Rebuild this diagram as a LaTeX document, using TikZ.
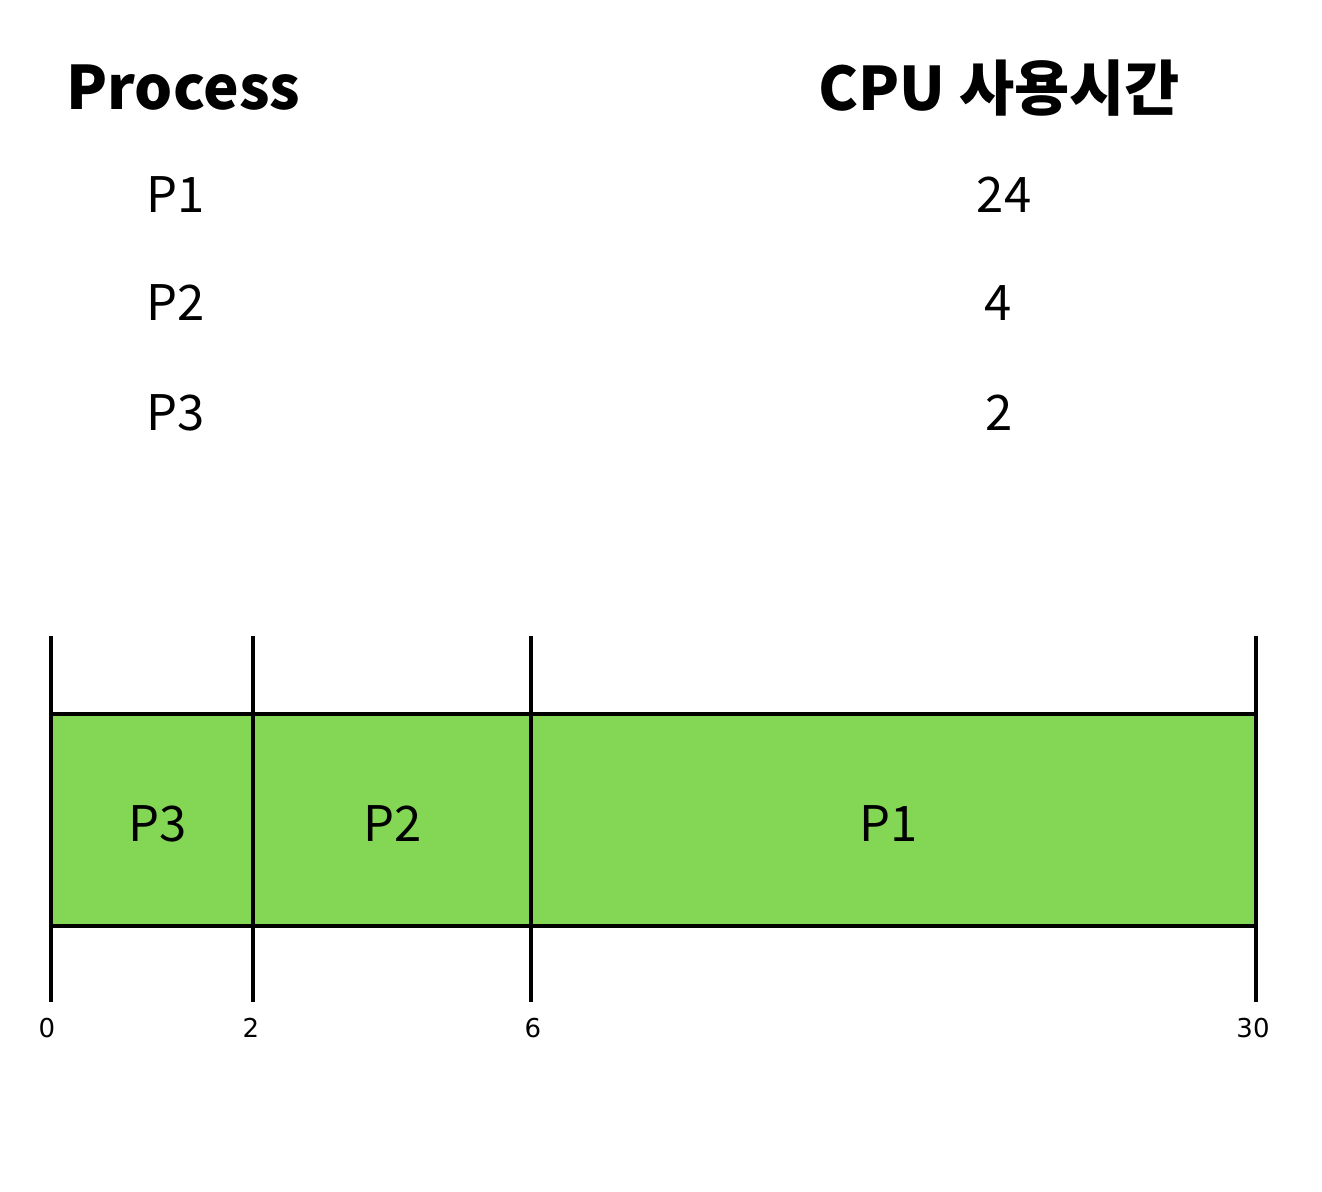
\documentclass[tikz,border=0pt]{standalone}
\usepackage{fontspec}
\setmainfont{Noto Sans CJK KR}
\newfontfamily\tickfont{DejaVu Sans}
\definecolor{barfill}{RGB}{132,215,85}
\begin{document}
\begin{tikzpicture}[
    x=0.5pt, y=-0.5pt,
    head/.style={anchor=west, inner sep=0pt, font=\fontsize{30}{36}\selectfont\bfseries},
    row/.style={inner sep=0pt, font=\fontsize{24.5}{29}\selectfont},
    tick/.style={inner sep=0pt, font=\tickfont\fontsize{13}{16}\selectfont},
    bar/.style={draw, line width=2.3pt},
]
    \useasboundingbox (0,0) rectangle (1322,1192);
    % Table
    \node[head] (hproc) at (66,88) {Process};
    \node[head] (hcpu) at (818,88) {CPU 사용시간};
    \foreach \n/\y/\t/\tx in {1/195/24/1004, 2/303/4/998, 3/413/2/999} {
        \node[row, anchor=west] (p\n) at (146,\y) {P\n};
        \node[row] (t\n) at (\tx,\y) {\t};
    }
    % Gantt chart
    \fill[barfill] (51,714) rectangle (1256,926);
    \foreach \x/\l/\lx in {51/0/47, 253/2/251, 531/6/533, 1256/30/1253} {
        \coordinate (top\l) at (\x,636);
        \coordinate (bot\l) at (\x,1002);
        \draw[bar] (top\l) -- (bot\l);
        \node[tick] (l\l) at (\lx,1028) {\l};
    }
    \coordinate (a) at (51,714);
    \coordinate (b) at (1256,714);
    \coordinate (c) at (51,926);
    \coordinate (d) at (1256,926);
    \draw[bar] (a) -- (b);
    \draw[bar] (c) -- (d);
    \node[row] (g3) at (158,824) {P3};
    \node[row] (g2) at (393,824) {P2};
    \node[row] (g1) at (889,824) {P1};
\end{tikzpicture}
\end{document}
